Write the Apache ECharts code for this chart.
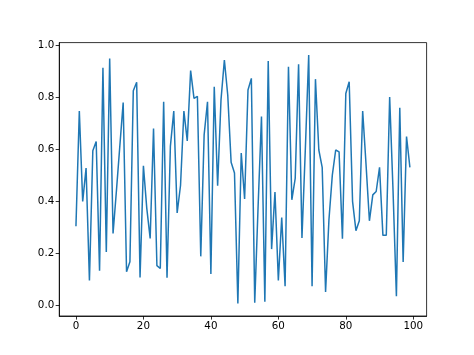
<!DOCTYPE html>
<html>
<head>
<meta charset="utf-8">
<script src="https://cdn.jsdelivr.net/npm/echarts@6/dist/echarts.min.js"></script>
<style>
html,body{margin:0;padding:0;background:#fff;}
#c{width:474px;height:355px;}
</style>
</head>
<body>
<div id="c"></div>
<script>
const values = [
0.303, 0.747, 0.399, 0.527, 0.094, 0.594, 0.63, 0.132, 0.914, 0.204,
0.95, 0.275, 0.44, 0.611, 0.78, 0.128, 0.166, 0.825, 0.858, 0.106,
0.536, 0.372, 0.256, 0.68, 0.151, 0.14, 0.783, 0.105, 0.612, 0.747,
0.354, 0.46, 0.747, 0.632, 0.903, 0.796, 0.804, 0.187, 0.655, 0.783,
0.119, 0.841, 0.459, 0.79, 0.944, 0.809, 0.55, 0.508, 0.005, 0.585,
0.408, 0.828, 0.873, 0.008, 0.38, 0.726, 0.012, 0.94, 0.215, 0.435,
0.094, 0.337, 0.072, 0.918, 0.405, 0.488, 0.927, 0.258, 0.6, 0.963,
0.072, 0.87, 0.597, 0.53, 0.05, 0.328, 0.5, 0.597, 0.59, 0.255,
0.815, 0.86, 0.399, 0.286, 0.324, 0.747, 0.54, 0.324, 0.424, 0.437,
0.53, 0.268, 0.268, 0.801, 0.44, 0.033, 0.76, 0.165, 0.649, 0.53
];
const xTicks = [0, 20, 40, 60, 80, 100];
const yTicks = [0.0, 0.2, 0.4, 0.6, 0.8, 1.0];

const n = values.length;
const xPad = (n - 1) * 0.05;
const yMin = Math.min(...values), yMax = Math.max(...values);
const yPad = (yMax - yMin) * 0.05;

const chart = echarts.init(document.getElementById('c'), null, {renderer: 'canvas'});
const font = 'DejaVu Sans';
chart.setOption({
  animation: false,
  backgroundColor: '#ffffff',
  grid: {
    left: 59.25, right: 47.4, top: 42.6, bottom: 39,
    containLabel: false,
    outerBoundsMode: 'none',
    show: true, borderColor: '#000', borderWidth: 0.8, backgroundColor: 'transparent'
  },
  xAxis: {
    type: 'value',
    min: -xPad, max: (n - 1) + xPad,
    splitLine: {show: false},
    axisLine: {show: true, onZero: false, lineStyle: {color: '#000', width: 0.8}},
    axisTick: {show: true, length: 3.6, inside: false, lineStyle: {color: '#000', width: 0.8}, customValues: xTicks},
    axisLabel: {show: true, color: '#000', fontFamily: font, fontSize: 10.3, margin: 5, customValues: xTicks, formatter: v => String(Math.round(v))}
  },
  yAxis: {
    type: 'value',
    min: yMin - yPad, max: yMax + yPad,
    splitLine: {show: false},
    axisLine: {show: true, onZero: false, lineStyle: {color: '#000', width: 0.8}},
    axisTick: {show: true, length: 3.6, inside: false, lineStyle: {color: '#000', width: 0.8}, customValues: yTicks},
    axisLabel: {show: true, color: '#000', fontFamily: font, fontSize: 10.3, margin: 5, customValues: yTicks, formatter: v => v.toFixed(1)}
  },
  series: [{
    type: 'line',
    data: values.map((v, i) => [i, v]),
    showSymbol: false,
    symbol: 'none',
    lineStyle: {color: '#1f77b4', width: 1.5},
    itemStyle: {color: '#1f77b4'}
  }]
});
</script>
</body>
</html>
